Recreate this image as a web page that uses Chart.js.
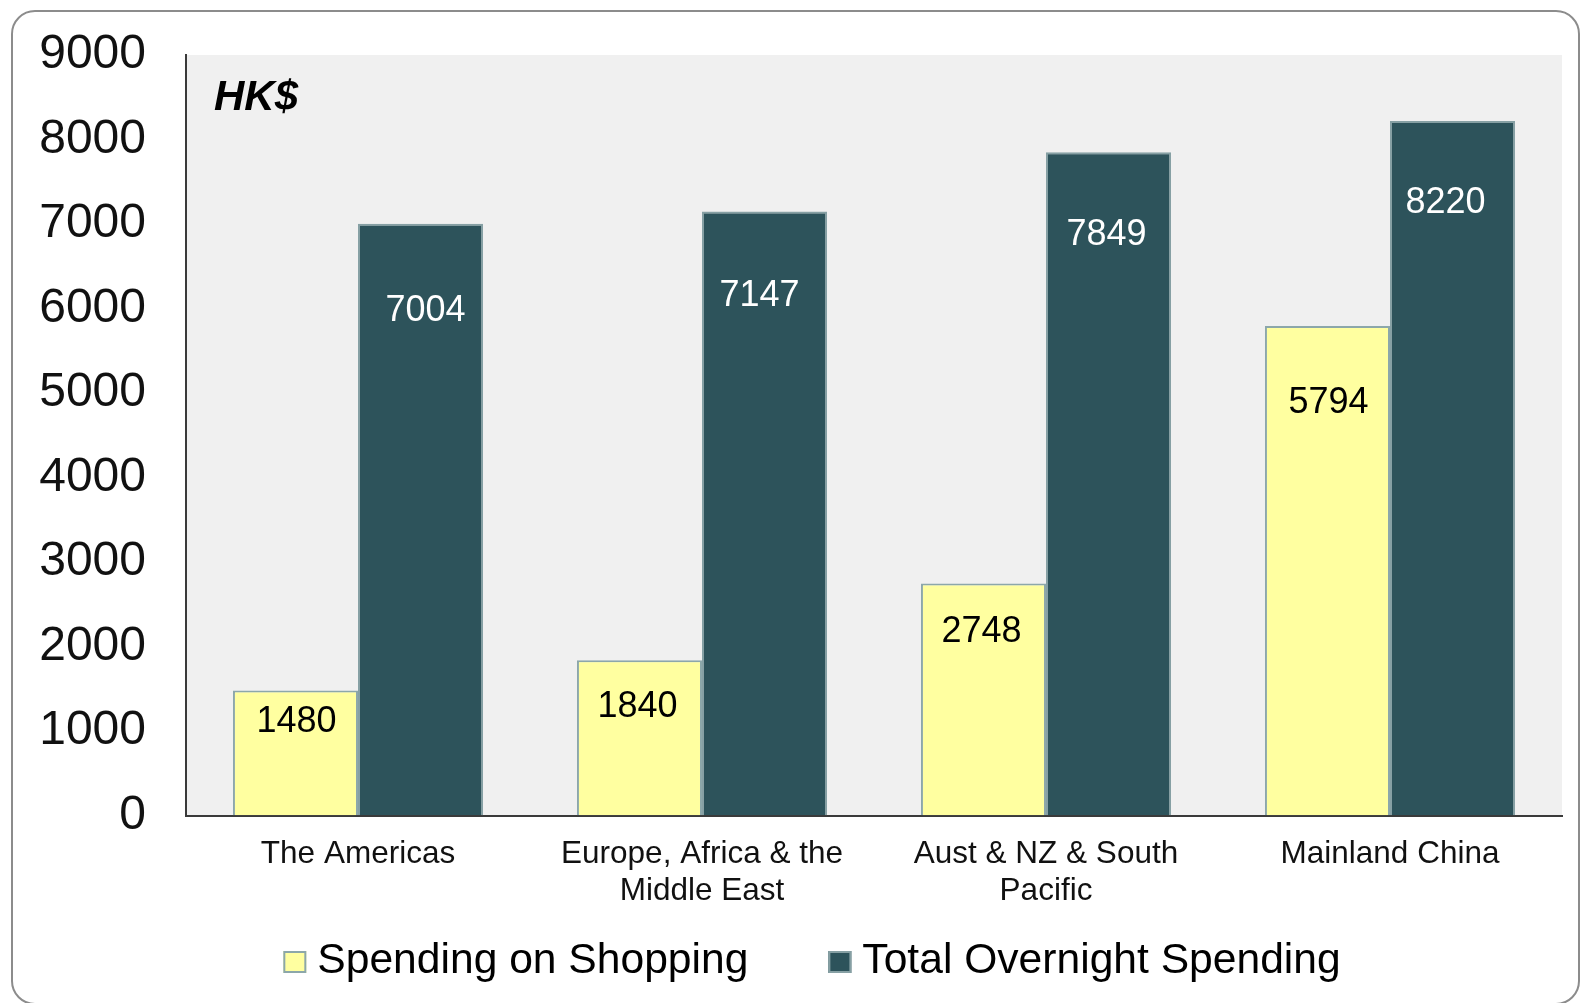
<!DOCTYPE html>
<html>
<head>
<meta charset="utf-8">
<script src="https://cdn.jsdelivr.net/npm/chart.js@4/dist/chart.umd.min.js"></script>
<style>
html,body{margin:0;padding:0;background:#fff;}
#wrap{position:relative;width:1583px;height:1003px;overflow:hidden;background:#fff;}
#frame{position:absolute;left:11px;top:10px;width:1569px;height:995px;border:2px solid #8c8c8c;border-radius:24px;box-sizing:border-box;pointer-events:none;}
canvas{position:absolute;left:0;top:0;}
</style>
</head>
<body>
<div id="wrap"><canvas id="c" width="1583" height="1003"></canvas><div id="frame"></div></div>
<script>
// ---- data ----
const categories = [['The Americas'], ['Europe, Africa & the', 'Middle East'], ['Aust & NZ & South', 'Pacific'], ['Mainland China']];
const seriesNames = ['Spending on Shopping', 'Total Overnight Spending'];
const shopping = [1480, 1840, 2748, 5794];
const overnight = [7004, 7147, 7849, 8220];
const yTickValues = [0, 1000, 2000, 3000, 4000, 5000, 6000, 7000, 8000, 9000];
const unitLabel = 'HK$';

// ---- styles ----
const FONT = '"Liberation Sans", Arial, Helvetica, sans-serif';
const fillColors = ['#FFFFA0', '#2D535B'];
const edgeColors = ['#8CA7AA', '#86A0A4'];
const valueLabelColors = ['#000000', '#FFFFFF'];
// label offsets relative to bar top / bar centre (styling only)
const labelDY = [[32, 47, 49, 77], [87, 84, 83, 82]];
const labelDX = [[1, -2, -2, 1], [5, -5, -2, -7]];

const plotBg = {
  id: 'plotBg',
  beforeDraw(chart) {
    const a = chart.chartArea, ctx = chart.ctx;
    ctx.save();
    ctx.fillStyle = '#F0F0F0';
    ctx.fillRect(a.left, a.top, a.right - a.left, a.bottom - a.top);
    ctx.restore();
  }
};

const valueLabels = {
  id: 'valueLabels',
  afterDatasetsDraw(chart) {
    const ctx = chart.ctx;
    chart.data.datasets.forEach((ds, di) => {
      const meta = chart.getDatasetMeta(di);
      meta.data.forEach((bar, i) => {
        ctx.save();
        ctx.font = '36px ' + FONT;
        ctx.fillStyle = valueLabelColors[di];
        ctx.textAlign = 'center';
        ctx.textBaseline = 'middle';
        ctx.fillText(String(ds.data[i]), bar.x + labelDX[di][i], bar.y + labelDY[di][i]);
        ctx.restore();
      });
    });
  }
};

const unitText = {
  id: 'unitText',
  afterDraw(chart) {
    const ctx = chart.ctx, a = chart.chartArea;
    ctx.save();
    ctx.font = 'italic bold 42px ' + FONT;
    ctx.fillStyle = '#000';
    ctx.textAlign = 'left';
    ctx.textBaseline = 'alphabetic';
    ctx.fillText(unitLabel, a.left + 28, a.top + 55);
    ctx.restore();
  }
};

// legend drawn from the datasets (Excel-style spacing)
const bottomLegend = {
  id: 'bottomLegend',
  afterDraw(chart) {
    const ctx = chart.ctx;
    const size = 42.6, box = 23, boxH = 22, gapText = 11, gapItem = 80;
    const centerX = 812, baseline = 973;
    ctx.save();
    ctx.font = size + 'px ' + FONT;
    const items = chart.data.datasets.map(ds => ({ ds, w: ctx.measureText(ds.label).width }));
    const total = items.reduce((s, it) => s + box + gapText + it.w, 0) + gapItem * (items.length - 1);
    let x = centerX - total / 2;
    items.forEach(it => {
      ctx.fillStyle = it.ds.backgroundColor;
      ctx.fillRect(x, baseline - boxH, box, boxH);
      ctx.lineWidth = 2;
      ctx.strokeStyle = it.ds.borderColor;
      ctx.strokeRect(x + 1, baseline - boxH + 1, box - 2, boxH - 2);
      ctx.fillStyle = '#000';
      ctx.textAlign = 'left';
      ctx.textBaseline = 'alphabetic';
      ctx.fillText(it.ds.label, x + box + gapText, baseline);
      x += box + gapText + it.w + gapItem;
    });
    ctx.restore();
  }
};

new Chart(document.getElementById('c'), {
  type: 'bar',
  data: {
    labels: categories,
    datasets: [
      { label: seriesNames[0], data: shopping, backgroundColor: fillColors[0], borderColor: edgeColors[0], borderWidth: 2 },
      { label: seriesNames[1], data: overnight, backgroundColor: fillColors[1], borderColor: edgeColors[1], borderWidth: 2 }
    ]
  },
  options: {
    responsive: false,
    animation: false,
    devicePixelRatio: 1,
    categoryPercentage: 0.727,
    barPercentage: 1.0,
    layout: { padding: { left: 20, right: 21, top: 55, bottom: 73 } },
    scales: {
      x: {
        grid: { display: false, drawTicks: false },
        border: { display: true, color: '#3a3a3a', width: 2 },
        ticks: { color: '#111', padding: 20, maxRotation: 0, autoSkip: false,
                 font: { family: FONT, size: 31.5, lineHeight: 1.18 } }
      },
      y: {
        min: 0, max: 9000,
        grid: { display: true, drawOnChartArea: false, drawTicks: true, tickLength: 40, tickColor: 'rgba(0,0,0,0)' },
        border: { display: true, color: '#3a3a3a', width: 2 },
        afterBuildTicks(scale) { scale.ticks = yTickValues.map(v => ({ value: v })); },
        ticks: { color: '#111', padding: 0, font: { family: FONT, size: 48 },
                 callback: v => String(v) },
        afterFit(scale) { scale.width = 166; }
      }
    },
    plugins: {
      legend: { display: false },
      tooltip: { enabled: false }
    }
  },
  plugins: [plotBg, valueLabels, unitText, bottomLegend]
});
</script>
</body>
</html>
